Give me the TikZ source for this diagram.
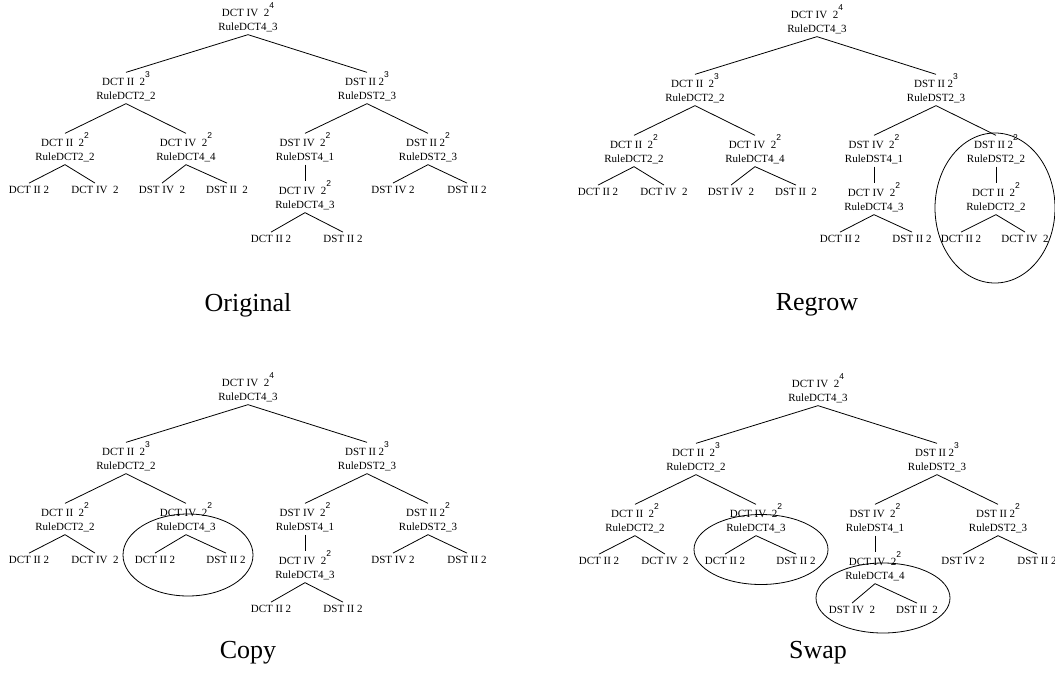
\documentclass[tikz,border=0pt]{standalone}
\usepackage{fontspec}
\setmainfont{Liberation Serif}
\setsansfont{Liberation Sans}
\usetikzlibrary{positioning}
\tikzset{
  rulenode/.style={align=center, inner sep=3pt, font=\fontsize{11}{14}\selectfont},
  leafnode/.style={inner sep=3pt, font=\fontsize{11}{14}\selectfont},
  link/.style={line width=0.8pt},
  ring/.style={line width=0.8pt},
  captext/.style={font=\fontsize{26}{30}\selectfont}
}
\newcommand{\pw}[1]{2\raisebox{7.5pt}[9.5pt][0pt]{\fontsize{8.5}{9}\selectfont\sffamily #1}}

\begin{document}
\begin{tikzpicture}[x=1pt,y=-1pt]
		%%%%% START %%%%%
		\useasboundingbox (0,0) rectangle (1055,675);
		
		%%%%% ORIGINAL %%%%%
		\begin{scope}
		\node[rulenode] (o-root) at (248,19) {DCT IV\ \ \pw{4}\\RuleDCT4\_3};
		\node[rulenode] (o-l) at (126,88) {DCT II\ \ \pw{3}\\RuleDCT2\_2};
		\node[rulenode] (o-r) at (367,88) {DST II\ \pw{3}\\RuleDST2\_3};
		\node[rulenode] (o-ll) at (65,149) {DCT II\ \ \pw{2}\\RuleDCT2\_2};
		\node[rulenode] (o-lr) at (186,149) {DCT IV\ \ \pw{2}\\RuleDCT4\_4};
		\node[rulenode] (o-rl) at (305,149) {DST IV\ \ \pw{2}\\RuleDST4\_1};
		\node[rulenode] (o-rr) at (428,149) {DST II\ \pw{2}\\RuleDST2\_3};
		\node[leafnode] (o-lll) at (29,190) {DCT II 2};
		\node[leafnode] (o-llr) at (95,190) {DCT IV\ \ 2};
		\node[leafnode] (o-lrl) at (162,190) {DST IV\ \ 2};
		\node[leafnode] (o-lrr) at (227,190) {DST II\ \ 2};
		\node[rulenode] (o-rlc) at (305,197) {DCT IV\ \ \pw{2}\\RuleDCT4\_3};
		\node[leafnode] (o-rlcl) at (271,239) {DCT II 2};
		\node[leafnode] (o-rlcr) at (343,239) {DST II 2};
		\node[leafnode] (o-rrl) at (393,190) {DST IV 2};
		\node[leafnode] (o-rrr) at (467,190) {DST II 2};
		
		\draw[link] (o-root.south) -- (o-l.north);
		\draw[link] (o-root.south) -- (o-r.north);
		\draw[link] (o-l.south) -- (o-ll.north);
		\draw[link] (o-l.south) -- (o-lr.north);
		\draw[link] (o-r.south) -- (o-rl.north);
		\draw[link] (o-r.south) -- (o-rr.north);
		\draw[link] (o-ll.south) -- (o-lll.north);
		\draw[link] (o-ll.south) -- (o-llr.north);
		\draw[link] (o-lr.south) -- (o-lrl.north);
		\draw[link] (o-lr.south) -- (o-lrr.north);
		\draw[link] (o-rl.south) -- (o-rlc.north);
		\draw[link] (o-rlc.south) -- (o-rlcl.north);
		\draw[link] (o-rlc.south) -- (o-rlcr.north);
		\draw[link] (o-rr.south) -- (o-rrl.north);
		\draw[link] (o-rr.south) -- (o-rrr.north);
		
		\node[captext] (o-cap) at (248,305) {Original};
		\end{scope}
		
		%%%%% REGROW %%%%%
		\begin{scope}[shift={(569,2)}]
		\node[rulenode] (r-root) at (248,19) {DCT IV\ \ \pw{4}\\RuleDCT4\_3};
		\node[rulenode] (r-l) at (126,88) {DCT II\ \ \pw{3}\\RuleDCT2\_2};
		\node[rulenode] (r-r) at (367,88) {DST II\ \pw{3}\\RuleDST2\_3};
		\node[rulenode] (r-ll) at (65,149) {DCT II\ \ \pw{2}\\RuleDCT2\_2};
		\node[rulenode] (r-lr) at (186,149) {DCT IV\ \ \pw{2}\\RuleDCT4\_4};
		\node[rulenode] (r-rl) at (305,149) {DST IV\ \ \pw{2}\\RuleDST4\_1};
		\node[rulenode] (r-rr) at (427,149) {DST II\ \pw{2}\\RuleDST2\_2};
		\node[leafnode] (r-lll) at (29,190) {DCT II 2};
		\node[leafnode] (r-llr) at (95,190) {DCT IV\ \ 2};
		\node[leafnode] (r-lrl) at (162,190) {DST IV\ \ 2};
		\node[leafnode] (r-lrr) at (227,190) {DST II\ \ 2};
		\node[rulenode] (r-rlc) at (305,197) {DCT IV\ \ \pw{2}\\RuleDCT4\_3};
		\node[leafnode] (r-rlcl) at (271,237) {DCT II 2};
		\node[leafnode] (r-rlcr) at (343,237) {DST II 2};
		\node[rulenode] (r-rrc) at (427,197) {DCT II\ \ \pw{2}\\RuleDCT2\_2};
		\node[leafnode] (r-rrcl) at (392,237) {DCT II 2};
		\node[leafnode] (r-rrcr) at (456,237) {DCT IV\ \ 2};
		
		\draw[link] (r-root.south) -- (r-l.north);
		\draw[link] (r-root.south) -- (r-r.north);
		\draw[link] (r-l.south) -- (r-ll.north);
		\draw[link] (r-l.south) -- (r-lr.north);
		\draw[link] (r-r.south) -- (r-rl.north);
		\draw[link] (r-r.south) -- (r-rr.north);
		\draw[link] (r-ll.south) -- (r-lll.north);
		\draw[link] (r-ll.south) -- (r-llr.north);
		\draw[link] (r-lr.south) -- (r-lrl.north);
		\draw[link] (r-lr.south) -- (r-lrr.north);
		\draw[link] (r-rl.south) -- (r-rlc.north);
		\draw[link] (r-rlc.south) -- (r-rlcl.north);
		\draw[link] (r-rlc.south) -- (r-rlcr.north);
		\draw[link] (r-rr.south) -- (r-rrc.north);
		\draw[link] (r-rrc.south) -- (r-rrcl.north);
		\draw[link] (r-rrc.south) -- (r-rrcr.north);
		
		\draw[ring] (426,206) ellipse [x radius=60pt, y radius=75pt];
		\node[captext] (r-cap) at (248,303) {Regrow};
		\end{scope}
		
		%%%%% COPY %%%%%
		\begin{scope}[shift={(0,370)}]
		\node[rulenode] (c-root) at (248,19) {DCT IV\ \ \pw{4}\\RuleDCT4\_3};
		\node[rulenode] (c-l) at (126,88) {DCT II\ \ \pw{3}\\RuleDCT2\_2};
		\node[rulenode] (c-r) at (367,88) {DST II\ \pw{3}\\RuleDST2\_3};
		\node[rulenode] (c-ll) at (65,149) {DCT II\ \ \pw{2}\\RuleDCT2\_2};
		\node[rulenode] (c-lr) at (186,149) {DCT IV\ \ \pw{2}\\RuleDCT4\_3};
		\node[rulenode] (c-rl) at (305,149) {DST IV\ \ \pw{2}\\RuleDST4\_1};
		\node[rulenode] (c-rr) at (428,149) {DST II\ \pw{2}\\RuleDST2\_3};
		\node[leafnode] (c-lll) at (29,190) {DCT II 2};
		\node[leafnode] (c-llr) at (95,190) {DCT IV\ \ 2};
		\node[leafnode] (c-lrl) at (155,190) {DCT II 2};
		\node[leafnode] (c-lrr) at (226,190) {DST II 2};
		\node[rulenode] (c-rlc) at (305,197) {DCT IV\ \ \pw{2}\\RuleDCT4\_3};
		\node[leafnode] (c-rlcl) at (271,239) {DCT II 2};
		\node[leafnode] (c-rlcr) at (343,239) {DST II 2};
		\node[leafnode] (c-rrl) at (393,190) {DST IV 2};
		\node[leafnode] (c-rrr) at (467,190) {DST II 2};
		
		\draw[link] (c-root.south) -- (c-l.north);
		\draw[link] (c-root.south) -- (c-r.north);
		\draw[link] (c-l.south) -- (c-ll.north);
		\draw[link] (c-l.south) -- (c-lr.north);
		\draw[link] (c-r.south) -- (c-rl.north);
		\draw[link] (c-r.south) -- (c-rr.north);
		\draw[link] (c-ll.south) -- (c-lll.north);
		\draw[link] (c-ll.south) -- (c-llr.north);
		\draw[link] (c-lr.south) -- (c-lrl.north);
		\draw[link] (c-lr.south) -- (c-lrr.north);
		\draw[link] (c-rl.south) -- (c-rlc.north);
		\draw[link] (c-rlc.south) -- (c-rlcl.north);
		\draw[link] (c-rlc.south) -- (c-rlcr.north);
		\draw[link] (c-rr.south) -- (c-rrl.north);
		\draw[link] (c-rr.south) -- (c-rrr.north);
		
		\draw[ring] (188,185) ellipse [x radius=65pt, y radius=41pt];
		\node[captext] (c-cap) at (248,283) {Copy};
		\end{scope}
		
		%%%%% SWAP %%%%%
		\begin{scope}[shift={(570,371)}]
		\node[rulenode] (s-root) at (248,19) {DCT IV\ \ \pw{4}\\RuleDCT4\_3};
		\node[rulenode] (s-l) at (126,88) {DCT II\ \ \pw{3}\\RuleDCT2\_2};
		\node[rulenode] (s-r) at (367,88) {DST II\ \pw{3}\\RuleDST2\_3};
		\node[rulenode] (s-ll) at (65,149) {DCT II\ \ \pw{2}\\RuleDCT2\_2};
		\node[rulenode] (s-lr) at (186,149) {DCT IV\ \ \pw{2}\\RuleDCT4\_3};
		\node[rulenode] (s-rl) at (305,149) {DST IV\ \ \pw{2}\\RuleDST4\_1};
		\node[rulenode] (s-rr) at (428,149) {DST II\ \pw{2}\\RuleDST2\_3};
		\node[leafnode] (s-lll) at (29,190) {DCT II 2};
		\node[leafnode] (s-llr) at (95,190) {DCT IV\ \ 2};
		\node[leafnode] (s-lrl) at (155,190) {DCT II 2};
		\node[leafnode] (s-lrr) at (226,190) {DST II 2};
		\node[rulenode] (s-rlc) at (305,197) {DCT IV\ \ \pw{2}\\RuleDCT4\_4};
		\node[leafnode] (s-rlcl) at (282,239) {DST IV\ \ 2};
		\node[leafnode] (s-rlcr) at (347,239) {DST II\ \ 2};
		\node[leafnode] (s-rrl) at (393,190) {DST IV 2};
		\node[leafnode] (s-rrr) at (467,190) {DST II 2};
		
		\draw[link] (s-root.south) -- (s-l.north);
		\draw[link] (s-root.south) -- (s-r.north);
		\draw[link] (s-l.south) -- (s-ll.north);
		\draw[link] (s-l.south) -- (s-lr.north);
		\draw[link] (s-r.south) -- (s-rl.north);
		\draw[link] (s-r.south) -- (s-rr.north);
		\draw[link] (s-ll.south) -- (s-lll.north);
		\draw[link] (s-ll.south) -- (s-llr.north);
		\draw[link] (s-lr.south) -- (s-lrl.north);
		\draw[link] (s-lr.south) -- (s-lrr.north);
		\draw[link] (s-rl.south) -- (s-rlc.north);
		\draw[link] (s-rlc.south) -- (s-rlcl.north);
		\draw[link] (s-rlc.south) -- (s-rlcr.north);
		\draw[link] (s-rr.south) -- (s-rrl.north);
		\draw[link] (s-rr.south) -- (s-rrr.north);
		
		\draw[ring] (191,178.5) ellipse [x radius=67pt, y radius=35pt];
		\draw[ring] (313,227) ellipse [x radius=67pt, y radius=35pt];
		\node[captext] (s-cap) at (248,282) {Swap};
		\end{scope}
		
		%%%%% END %%%%%
\end{tikzpicture}
\end{document}
